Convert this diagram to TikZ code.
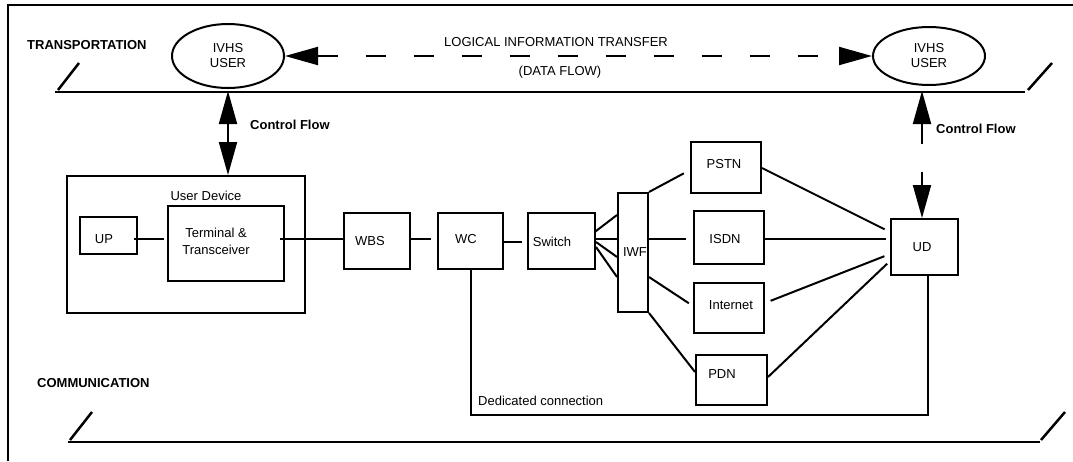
\documentclass[tikz,border=0pt]{standalone}
\usepackage{fontspec}
\setmainfont{Liberation Sans}
\usetikzlibrary{arrows.meta,shapes.geometric}
\begin{document}
\begin{tikzpicture}[x=1pt,y=-1pt,
  every node/.style={font=\fontsize{13}{15}\selectfont, inner sep=0pt},
  txt/.style={align=center},
  bold/.style={font=\fontsize{13}{15}\selectfont\bfseries},
  box/.style 2 args={draw, line width=2pt, minimum width=#1pt, minimum height=#2pt},
  ell/.style={draw, ellipse, line width=2pt, align=center},
  conn/.style={line width=2pt},
  frame/.style={line width=2.5pt},
  layer/.style={line width=2.5pt},
  bigtip/.tip={Triangle[length=33pt,width=18pt]},
  flowdash/.style={dash pattern=on 20pt off 28pt}
]
\useasboundingbox (0,0) rectangle (1073,461);

% frame
\draw[frame] (8,461) -- (8,5) -- (1073,5);

% layer lines
\draw[layer] (55,92) -- (1025,92);
\draw[layer] (58,90) -- (79,63);
\draw[layer] (1028,90) -- (1052,63);
\draw[layer] (68,442) -- (1040,442);
\draw[layer] (70,440) -- (92,412);
\draw[layer] (1041,440) -- (1065,412);

\node[bold, anchor=west] (tr) at (27,45) {TRANSPORTATION};
\node[bold, anchor=west] (co) at (37,383) {COMMUNICATION};

% IVHS users
\node[ell, minimum width=112pt, minimum height=64pt] (ivL) at (228,56) {IVHS\\USER};
\node[ell, minimum width=112pt, minimum height=58pt] (ivR) at (929,56) {IVHS\\USER};
\draw[conn, flowdash, bigtip-bigtip] (ivL) -- (ivR);
\node (lit) at (556,42) {LOGICAL INFORMATION TRANSFER};
\node (df) at (560,72) {(DATA FLOW)};

% boxes
\node[box={238}{137}] (udev) at (186,244.5) {};
\node (udevT) at (206,196) {User Device};
\node[box={57}{37}] (up) at (108.5,235.5) {};
\node (upT) at (104,239) {UP};
\node[box={116}{75}] (term) at (226,243.5) {};
\node[txt] (termT) at (216,241) {Terminal \&\\[2pt]Transceiver};
\node[box={66}{56}] (wbs) at (377,241) {};
\node (wbsT) at (370,241) {WBS};
\node[box={65}{56}] (wc) at (470.5,241) {};
\node (wcT) at (466,239) {WC};
\node[box={67}{56}] (sw) at (561.5,241) {};
\node (swT) at (552,242) {Switch};
\node[box={30}{119}] (iwf) at (633,252.5) {};
\node (iwfT) at (635,252) {IWF};
\node[box={70}{51}] (pstn) at (726,167.5) {};
\node (pstnT) at (724,164) {PSTN};
\node[box={70}{53}] (isdn) at (729,237.5) {};
\node (isdnT) at (725,239) {ISDN};
\node[box={70}{50}] (inet) at (729,308) {};
\node (inetT) at (731,305) {Internet};
\node[box={71}{50}] (pdn) at (731.5,380) {};
\node (pdnT) at (722,374) {PDN};
\node[box={67}{56}] (ud) at (924.5,247) {};
\node (udT) at (922,247) {UD};

% control flows
\coordinate (cfL) at (228,91);
\draw[conn, bigtip-bigtip] (cfL) -- (cfL |- udev.north);
\node[bold, anchor=west] (cfLT) at (250,125) {Control Flow};
\coordinate (cfR) at (922,91);
\draw[conn, flowdash, bigtip-bigtip] (cfR) -- (cfR |- ud.north);
\node[bold, anchor=west] (cfRT) at (936,129) {Control Flow};

% chain connectors
\draw[conn, shorten <=-4pt, shorten >=3pt] (up.east |- 0,239) -- (term.west |- 0,239);
\draw[conn, shorten <=-5pt] (term.east |- 0,239) -- (wbs.west |- 0,239);
\draw[conn, shorten >=6pt] (wbs.east |- 0,239) -- (wc.west |- 0,239);
\draw[conn, shorten >=5pt] (wc.east |- 0,242) -- (sw.west |- 0,242);

% switch to IWF
\draw[conn, shorten <=-2pt] (sw.east |- 0,231) -- (iwf.west |- 0,215);
\draw[conn] (sw.east |- 0,239) -- (iwf.west |- 0,239);
\draw[conn] (sw.east |- 0,242) -- (iwf.west |- 0,257);
\draw[conn] (sw.east |- 0,247) -- (iwf.west |- 0,277);

% IWF to networks
\draw[conn, shorten >=7pt] (iwf.north east) -- (pstn.west |- 0,170);
\draw[conn, shorten >=7pt] (iwf.east |- 0,239) -- (isdn.west |- 0,239);
\draw[conn, shorten >=5pt] (iwf.east |- 0,277) -- (inet.west |- 0,306);
\draw[conn] (iwf.south east) -- (pdn.west |- 0,372);

% networks to UD
\draw[conn, shorten >=6pt] (pstn.east |- 0,168) -- (ud.west |- 0,232);
\draw[conn, shorten <=-2pt, shorten >=4pt] (isdn.east |- 0,239) -- (ud.west |- 0,239);
\draw[conn, shorten <=6pt, shorten >=6pt] (inet.east |- 0,303) -- (ud.west |- 0,254);
\draw[conn, shorten >=4pt] (pdn.east |- 0,377) -- (ud.west |- 0,261);

% dedicated connection
\coordinate (dedR) at (928,415);
\draw[conn] (wc.south) |- (dedR) -- (dedR |- ud.south);
\node[anchor=west] (dedT) at (478,401) {Dedicated connection};
\end{tikzpicture}
\end{document}
